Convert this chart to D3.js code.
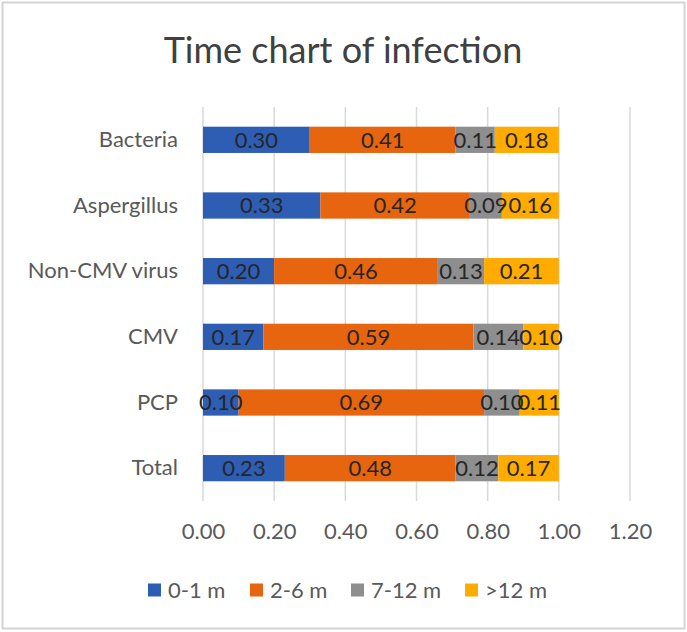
<!DOCTYPE html>
<html>
<head>
<meta charset="utf-8">
<script src="https://cdn.jsdelivr.net/npm/d3@7/dist/d3.min.js"></script>
<style>
  html, body { margin: 0; padding: 0; background: #ffffff; }
  svg { display: block; font-family: Lato, "Open Sans", sans-serif; }
</style>
</head>
<body>
<div id="chart"></div>
<script>
// data
var categories = ["Bacteria", "Aspergillus", "Non-CMV virus", "CMV", "PCP", "Total"];
var seriesNames = ["0-1 m", "2-6 m", "7-12 m", ">12 m"];
var seriesColors = ["#2E5DB4", "#E7650F", "#8E8E8E", "#FFAB00"];
var m0_1 = [0.30, 0.33, 0.20, 0.17, 0.10, 0.23];
var m2_6 = [0.41, 0.42, 0.46, 0.59, 0.69, 0.48];
var m7_12 = [0.11, 0.09, 0.13, 0.14, 0.10, 0.12];
var m12plus = [0.18, 0.16, 0.21, 0.10, 0.11, 0.17];
var xTicks = [0, 0.2, 0.4, 0.6, 0.8, 1.0, 1.2];

var W = 687, H = 632;
var plot = {left: 203, right: 630, top: 107, bottom: 501};

var svg = d3.select("#chart").append("svg")
  .attr("width", W)
  .attr("height", H);

// outer chart border
svg.append("rect")
  .attr("x", 2.5).attr("y", 2.5)
  .attr("width", 682).attr("height", 626)
  .attr("fill", "#ffffff")
  .attr("stroke", "#d4d4d4")
  .attr("stroke-width", 2);

// title
svg.append("text")
  .attr("x", 343).attr("y", 63)
  .attr("text-anchor", "middle")
  .attr("fill", "#404040")
  .style("font-size", "36px")
  .text("Time chart of infection");

var x = d3.scaleLinear().domain([0, 1.2]).range([plot.left, plot.right]);
var y = d3.scaleBand().domain(categories).range([plot.top, plot.bottom]).paddingInner(0.6).paddingOuter(0.3);

// gridlines
svg.append("g").selectAll("line").data(xTicks).enter().append("line")
  .attr("x1", function(d){ return x(d); })
  .attr("x2", function(d){ return x(d); })
  .attr("y1", plot.top).attr("y2", plot.bottom)
  .attr("stroke", "#d9d9d9")
  .attr("stroke-width", 1.5);

// stack the series
var table = categories.map(function(c, i){
  return {cat: c, "0-1 m": m0_1[i], "2-6 m": m2_6[i], "7-12 m": m7_12[i], ">12 m": m12plus[i]};
});
var stacked = d3.stack().keys(seriesNames)(table);

var layers = svg.append("g").selectAll("g").data(stacked).enter().append("g")
  .attr("fill", function(d, i){ return seriesColors[i]; });

layers.selectAll("rect").data(function(d){ return d; }).enter().append("rect")
  .attr("x", function(d){ return x(d[0]); })
  .attr("y", function(d){ return y(d.data.cat); })
  .attr("width", function(d){ return x(d[1]) - x(d[0]); })
  .attr("height", y.bandwidth());

// data labels
var labels = svg.append("g");
stacked.forEach(function(layer){
  layer.forEach(function(d){
    labels.append("text")
      .attr("x", (x(d[0]) + x(d[1])) / 2)
      .attr("y", y(d.data.cat) + y.bandwidth() / 2)
      .attr("dy", "0.36em")
      .attr("text-anchor", "middle")
      .attr("fill", "#262626")
      .style("font-size", "22px")
      .text(d3.format(".2f")(d[1] - d[0]));
  });
});

// category axis
var yAxis = svg.append("g")
  .attr("transform", "translate(" + (plot.left - 25) + ",0)")
  .call(d3.axisLeft(y).tickSize(0).tickPadding(0));
yAxis.select(".domain").remove();
yAxis.selectAll("text")
  .attr("fill", "#595959")
  .style("font-size", "22px")
  .style("font-family", "Lato, 'Open Sans', sans-serif");

// value axis
var xAxis = svg.append("g")
  .attr("transform", "translate(0," + (plot.bottom + 22) + ")")
  .call(d3.axisBottom(x).tickValues(xTicks).tickFormat(d3.format(".2f")).tickSize(0).tickPadding(0));
xAxis.select(".domain").remove();
xAxis.selectAll("text")
  .attr("fill", "#595959")
  .style("font-size", "22px")
  .style("font-family", "Lato, 'Open Sans', sans-serif");

// legend
var legendX = [148, 250, 351, 465];
var legend = svg.append("g").selectAll("g").data(seriesNames).enter().append("g")
  .attr("transform", function(d, i){ return "translate(" + legendX[i] + ",590)"; });
legend.append("rect")
  .attr("x", 0).attr("y", -6.5)
  .attr("width", 13).attr("height", 13)
  .attr("fill", function(d, i){ return seriesColors[i]; });
legend.append("text")
  .attr("x", 20).attr("y", 0)
  .attr("dy", "0.36em")
  .attr("fill", "#595959")
  .style("font-size", "22px")
  .text(function(d){ return d; });
</script>
</body>
</html>
